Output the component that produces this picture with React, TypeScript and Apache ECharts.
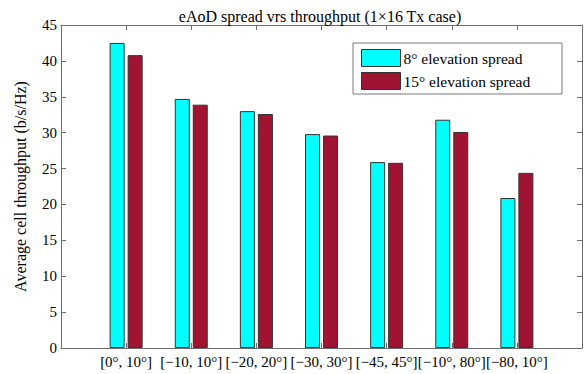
import React, { useEffect, useRef } from "react";
import * as echarts from "echarts";

// Elevation-spread ranges on the x axis (positions 1..7)
const categories = [
  "[0°, 10°]",
  "[−10, 10°]",
  "[−20, 20°]",
  "[−30, 30°]",
  "[−45, 45°]",
  "[−10°, 80°]",
  "[−80, 10°]",
];

// Average cell throughput (b/s/Hz)
const spread8 = [42.5, 34.7, 33.0, 29.8, 25.9, 31.8, 20.9];
const spread15 = [40.8, 33.9, 32.6, 29.6, 25.8, 30.1, 24.4];

const seriesNames = ["8° elevation spread", "15° elevation spread"];
const seriesColors = ["#00FFFF", "#A01431"];

const FONT = "'Liberation Serif', 'Times New Roman', serif";
const AXIS_COLOR = "#6e6e6e";

export default function App() {
  const ref = useRef<HTMLDivElement>(null);

  useEffect(() => {
    if (!ref.current) return;
    const chart = echarts.init(ref.current, null, { renderer: "svg" });

    const xCommon = {
      type: "value" as const,
      min: 0,
      max: 8,
      interval: 1,
      splitLine: { show: false },
      axisLine: { show: true, onZero: false, lineStyle: { color: AXIS_COLOR, width: 1 } },
      axisTick: { show: true, inside: true, length: 5, lineStyle: { color: AXIS_COLOR } },
    };
    const yCommon = {
      type: "value" as const,
      min: 0,
      max: 45,
      interval: 5,
      splitLine: { show: false },
      axisLine: { show: true, onZero: false, lineStyle: { color: AXIS_COLOR, width: 1 } },
      axisTick: { show: true, inside: true, length: 5, lineStyle: { color: AXIS_COLOR } },
    };

    const toPoints = (vals: number[]) => vals.map((v, i) => [i + 1, v]);

    chart.setOption({
      animation: false,
      backgroundColor: "#ffffff",
      textStyle: { fontFamily: FONT, color: "#000" },
      title: {
        text: "eAoD spread vrs throughput (1×16 Tx case)",
        left: 315,
        textAlign: "center",
        top: 3,
        textStyle: { fontFamily: FONT, fontSize: 16, fontWeight: "normal", color: "#000" },
      },
      grid: { left: 61, right: 2, top: 25, bottom: 26, containLabel: false },
      // Legend frame, drawn behind the legend entries
      graphic: [
        {
          type: "rect",
          z: 3,
          shape: { x: 353, y: 43, width: 209, height: 51 },
          style: { fill: "#fff", stroke: "#7a7a7a", lineWidth: 1 },
        },
      ],
      legend: {
        data: seriesNames,
        orient: "vertical",
        left: 353,
        top: 43,
        icon: "rect",
        itemWidth: 39,
        itemHeight: 17,
        itemGap: 5,
        itemStyle: { borderColor: "#333", borderWidth: 1 },
        padding: [6, 0, 5, 8],
        borderWidth: 0,
        z: 4,
        textStyle: { fontFamily: FONT, fontSize: 15.5, color: "#000", padding: [0, 0, 0, -2] },
      },
      xAxis: [
        {
          ...xCommon,
          position: "bottom",
          axisLabel: {
            show: true,
            margin: 6,
            fontFamily: FONT,
            fontSize: 15,
            color: "#000",
            formatter: (v: number) => categories[v - 1] ?? "",
          },
        },
        {
          ...xCommon,
          position: "top",
          axisLabel: { show: false },
        },
      ],
      yAxis: [
        {
          ...yCommon,
          position: "left",
          name: "Average cell throughput (b/s/Hz)",
          nameLocation: "middle",
          nameGap: 33,
          nameTextStyle: { fontFamily: FONT, fontSize: 16, color: "#000" },
          axisLabel: { margin: 4, fontFamily: FONT, fontSize: 15, color: "#000" },
        },
        {
          ...yCommon,
          position: "right",
          axisLabel: { show: false },
        },
      ],
      series: [
        {
          name: seriesNames[0],
          type: "bar",
          xAxisIndex: 0,
          yAxisIndex: 0,
          data: toPoints(spread8),
          barWidth: 15,
          barGap: "20%",
          itemStyle: { color: seriesColors[0], borderColor: "#333", borderWidth: 1 },
        },
        {
          name: seriesNames[1],
          type: "bar",
          xAxisIndex: 0,
          yAxisIndex: 0,
          data: toPoints(spread15),
          barWidth: 15,
          barGap: "20%",
          itemStyle: { color: seriesColors[1], borderColor: "#333", borderWidth: 1 },
        },
      ],
    });

    return () => chart.dispose();
  }, []);

  return (
    <div
      ref={ref}
      style={{ position: "fixed", left: 0, top: 0, width: 585, height: 374, background: "#fff" }}
    />
  );
}
